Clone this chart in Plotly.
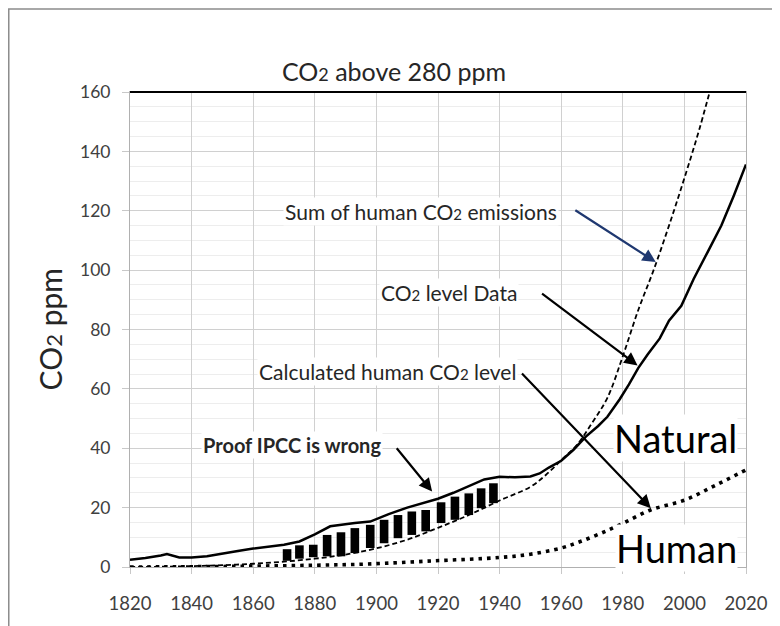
import plotly.graph_objects as go

# CO2 level data (ppm above 280)
data_years = [1820, 1825, 1830, 1832, 1836, 1840, 1845, 1850, 1855, 1860, 1865, 1870, 1875,
              1880, 1885, 1888, 1893, 1898, 1904, 1910, 1915, 1920, 1925, 1930, 1935, 1940,
              1945, 1950, 1953, 1956, 1960, 1964, 1968, 1972, 1975, 1979, 1982, 1985, 1988,
              1992, 1995, 1999, 2003, 2007.5, 2012, 2016, 2020]
data_ppm = [2.4, 3.0, 3.9, 4.4, 3.2, 3.2, 3.6, 4.6, 5.4, 6.2, 6.8, 7.5, 8.6,
            11.0, 13.7, 14.2, 14.8, 15.3, 17.8, 20.0, 21.6, 23.0, 25.0, 27.3, 29.5, 30.4,
            30.2, 30.5, 31.5, 33.5, 35.8, 39.5, 43.9, 47.5, 50.6, 56.5, 61.5, 67.0, 71.5,
            77.0, 83.0, 88.0, 97.0, 106.0, 115.0, 125.0, 135.6]

# Sum of human CO2 emissions
emis_years = [1820, 1830, 1840, 1850, 1860, 1870, 1880, 1890, 1900, 1910, 1920, 1930, 1940,
              1950, 1955, 1960, 1965, 1970, 1975, 1980, 1985, 1990, 1995, 2000, 2005, 2010]
emis_ppm = [0, 0.1, 0.3, 0.6, 1.1, 1.8, 2.8, 4.2, 6.3, 9.2, 13.2, 17.5, 22.4,
            27, 31, 36, 41, 48.5, 57, 71, 86.5, 100, 115, 131, 148, 167]

# Calculated human CO2 level
human_years = [1820, 1840, 1860, 1880, 1897, 1919, 1940, 1950, 1960, 1966, 1973, 1980,
               1989, 2000, 2010, 2020]
human_ppm = [0, 0.1, 0.3, 0.6, 1.0, 2.1, 3.2, 4.3, 6.4, 8.5, 11.4, 14.7,
             19.2, 22.5, 27.5, 32.7]

# "Proof IPCC is wrong" bars (bottom / top)
bar_years = [1871, 1875, 1879.5, 1884, 1888.5, 1893, 1898, 1902.5, 1907, 1911.5, 1916,
             1921, 1925.5, 1930, 1934, 1938]
bar_low = [2.1, 2.8, 3.3, 3.6, 3.6, 4.7, 6.4, 8.0, 9.7, 10.8, 12.0, 14.8, 15.9, 17.5, 19.8, 21.5]
bar_high = [6.0, 7.3, 7.5, 10.8, 11.7, 13.1, 14.2, 15.9, 17.5, 18.7, 19.2, 21.8, 23.7, 24.8, 26.5, 28.2]

FONT = "Lato, Carlito, sans-serif"
TXT = "#262626"


def co2(size):
    return 'CO<span style="font-size:%dpx">2</span>' % size


fig = go.Figure()

fig.add_trace(go.Bar(x=bar_years, y=[h - l for h, l in zip(bar_high, bar_low)], base=bar_low,
                     width=2.8, marker=dict(color="black", line=dict(width=0))))
fig.add_trace(go.Scatter(x=human_years, y=human_ppm, mode="lines", line_shape="spline",
                         line=dict(color="black", width=3.6, dash="3.5px,5px")))
fig.add_trace(go.Scatter(x=emis_years, y=emis_ppm, mode="lines", line_shape="spline",
                         line=dict(color="black", width=1.8, dash="5px,3px")))
fig.add_trace(go.Scatter(x=data_years, y=data_ppm, mode="lines",
                         line=dict(color="black", width=2.5)))

# text labels
labels = [
    (1914.6, 119.7, "Sum of human " + co2(15) + " emissions", 21),
    (1923.5, 92.6, co2(15) + " level Data", 21),
    (1903.5, 66.0, "Calculated human " + co2(15) + " level", 21),
    (1872.5, 41.2, "<b>Proof IPCC is wrong</b>", 20),
]
for x, y, t, s in labels:
    fig.add_annotation(x=x, y=y, text=t, showarrow=False, bgcolor="white", borderpad=1,
                       font=dict(family=FONT, size=s, color=TXT))

fig.add_annotation(x=2017.5, y=43.5, text="Natural", showarrow=False, xanchor="right",
                   bgcolor="white", borderpad=0, font=dict(family=FONT, size=38, color="black"))
fig.add_annotation(x=2017.5, y=6.5, text="Human", showarrow=False, xanchor="right",
                   bgcolor="white", borderpad=0, font=dict(family=FONT, size=38, color="black"))

# arrows
arrows = [
    (1964.1, 120.5, 1990.7, 102.7, "#1f3870"),
    (1953.3, 92.5, 1984.8, 67.9, "black"),
    (1946.8, 65.7, 1989.1, 19.8, "black"),
    (1906.2, 40.5, 1918.1, 25.4, "black"),
]
for ax, ay, x, y, c in arrows:
    fig.add_annotation(x=x, y=y, ax=ax, ay=ay, xref="x", yref="y", axref="x", ayref="y",
                       text="", showarrow=True, arrowhead=2, arrowsize=1.2, arrowwidth=2.2,
                       arrowcolor=c, standoff=0)

# outer frame of the original picture (left and top edges) and top border of the plot
fig.add_shape(type="rect", xref="paper", yref="paper", x0=-0.1968, x1=1.2, y0=-0.3, y1=1.1745,
              line=dict(color="#8c8c8c", width=1.5), layer="below")
fig.add_shape(type="line", xref="x domain", yref="y domain", x0=0, x1=1, y0=1, y1=1,
              line=dict(color="black", width=2))

# y-axis title
fig.add_annotation(xref="paper", yref="paper", x=-0.13, y=0.5, text=co2(22) + " ppm",
                   textangle=-90, showarrow=False, xanchor="center", yanchor="middle",
                   font=dict(family=FONT, size=30, color=TXT))

# the page body adds an 8px margin, so the figure is drawn 8px smaller
fig.update_layout(
    width=772, height=618,
    margin=dict(l=122, r=34, t=84, b=57),
    paper_bgcolor="white", plot_bgcolor="white",
    showlegend=False,
    title=dict(text=co2(18) + " above 280 ppm", x=0.5, xanchor="center",
               y=1 - 64 / 618, yanchor="middle", yref="container",
               font=dict(family=FONT, size=25, color=TXT)),
    font=dict(family=FONT),
)
fig.update_xaxes(range=[1820, 2020], tick0=1820, dtick=20, showgrid=True, gridcolor="#d0d0d0",
                 ticks="outside", ticklen=6, tickcolor="#c8c8c8", showline=True,
                 linecolor="#b0b0b0", mirror=True, zeroline=False,
                 tickfont=dict(family=FONT, size=18.5, color="#404040"), ticklabelstandoff=14)
fig.update_yaxes(range=[0, 160], tick0=0, dtick=20, showgrid=True, gridcolor="#d0d0d0",
                 minor=dict(dtick=5, showgrid=True, gridcolor="#ededed"),
                 ticks="outside", ticklen=7, tickcolor="#c8c8c8", showline=True,
                 linecolor="#b0b0b0", mirror=True, zeroline=False,
                 tickfont=dict(family=FONT, size=17.5, color="#404040"), ticklabelstandoff=8)

fig.write_html("out.html")
